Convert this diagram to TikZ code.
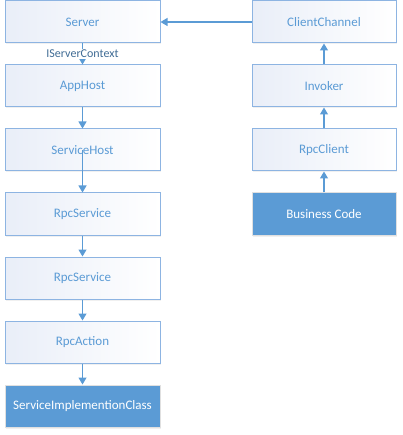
\documentclass[tikz,border=0pt]{standalone}
\usepackage{fontspec}
\setmainfont{Carlito}
\usetikzlibrary{positioning,arrows.meta,shadows}
\definecolor{lineblue}{HTML}{5B9BD5}
\definecolor{edgeblue}{HTML}{8DB4E2}
\definecolor{paleblue}{HTML}{E9EEF8}
\tikzset{%
	plain/.style = {draw=edgeblue,line width=1pt,left color=paleblue,right color=white,
		text=lineblue,minimum height=42pt,font=\fontsize{13}{15}\selectfont,
		drop shadow={opacity=.12,shadow xshift=1pt,shadow yshift=-1.5pt}},
	filled/.style = {plain,draw=black!12,fill=lineblue,left color=lineblue,right color=lineblue,text=white},
	link/.style = {draw=lineblue,line width=1.1pt,-{Triangle[length=7pt,width=8pt]}}%
}

\begin{document}
\begin{tikzpicture}[x=1pt,y=1pt,node distance=21pt]
			\useasboundingbox (0,0) rectangle (402,-435);
			
			% server side
			\node(server)[plain,minimum width=155pt]at(82.5,-22){Server};
			\node(apphost)[plain,minimum width=155pt,below=of server]{AppHost};
			\node(servicehost)[plain,minimum width=155pt,below=of apphost]{ServiceHost};
			\node(rpcservice1)[plain,minimum width=155pt,below=of servicehost]{RpcService};
			\node(rpcservice2)[plain,minimum width=155pt,below=of rpcservice1]{RpcService};
			\node(rpcaction)[plain,minimum width=155pt,below=of rpcservice2]{RpcAction};
			\node(impl)[filled,minimum width=155pt,below=of rpcaction]{ServiceImplementionClass};
			
			% client side
			\node(channel)[plain,minimum width=144pt]at(324,-22){ClientChannel};
			\node(invoker)[plain,minimum width=144pt,below=of channel]{Invoker};
			\node(rpcclient)[plain,minimum width=144pt,below=of invoker]{RpcClient};
			\node(business)[filled,minimum width=144pt,below=of rpcclient]{Business Code};
			
			\draw[link](server)--(apphost)
				node[midway,fill=white,inner sep=1pt,text=lineblue!70!black,font=\fontsize{12}{14}\selectfont]{IServerContext};
			\draw[link](apphost)--(servicehost);
			\draw[link](servicehost.center)--(rpcservice1);
			\draw[link](rpcservice1)--(rpcservice2);
			\draw[link](rpcservice2)--(rpcaction);
			\draw[link](rpcaction)--(impl);
			
			\draw[link](business)--(rpcclient);
			\draw[link](rpcclient)--(invoker);
			\draw[link](invoker)--(channel);
			\draw[link](channel)--(server);
\end{tikzpicture}
\end{document}
